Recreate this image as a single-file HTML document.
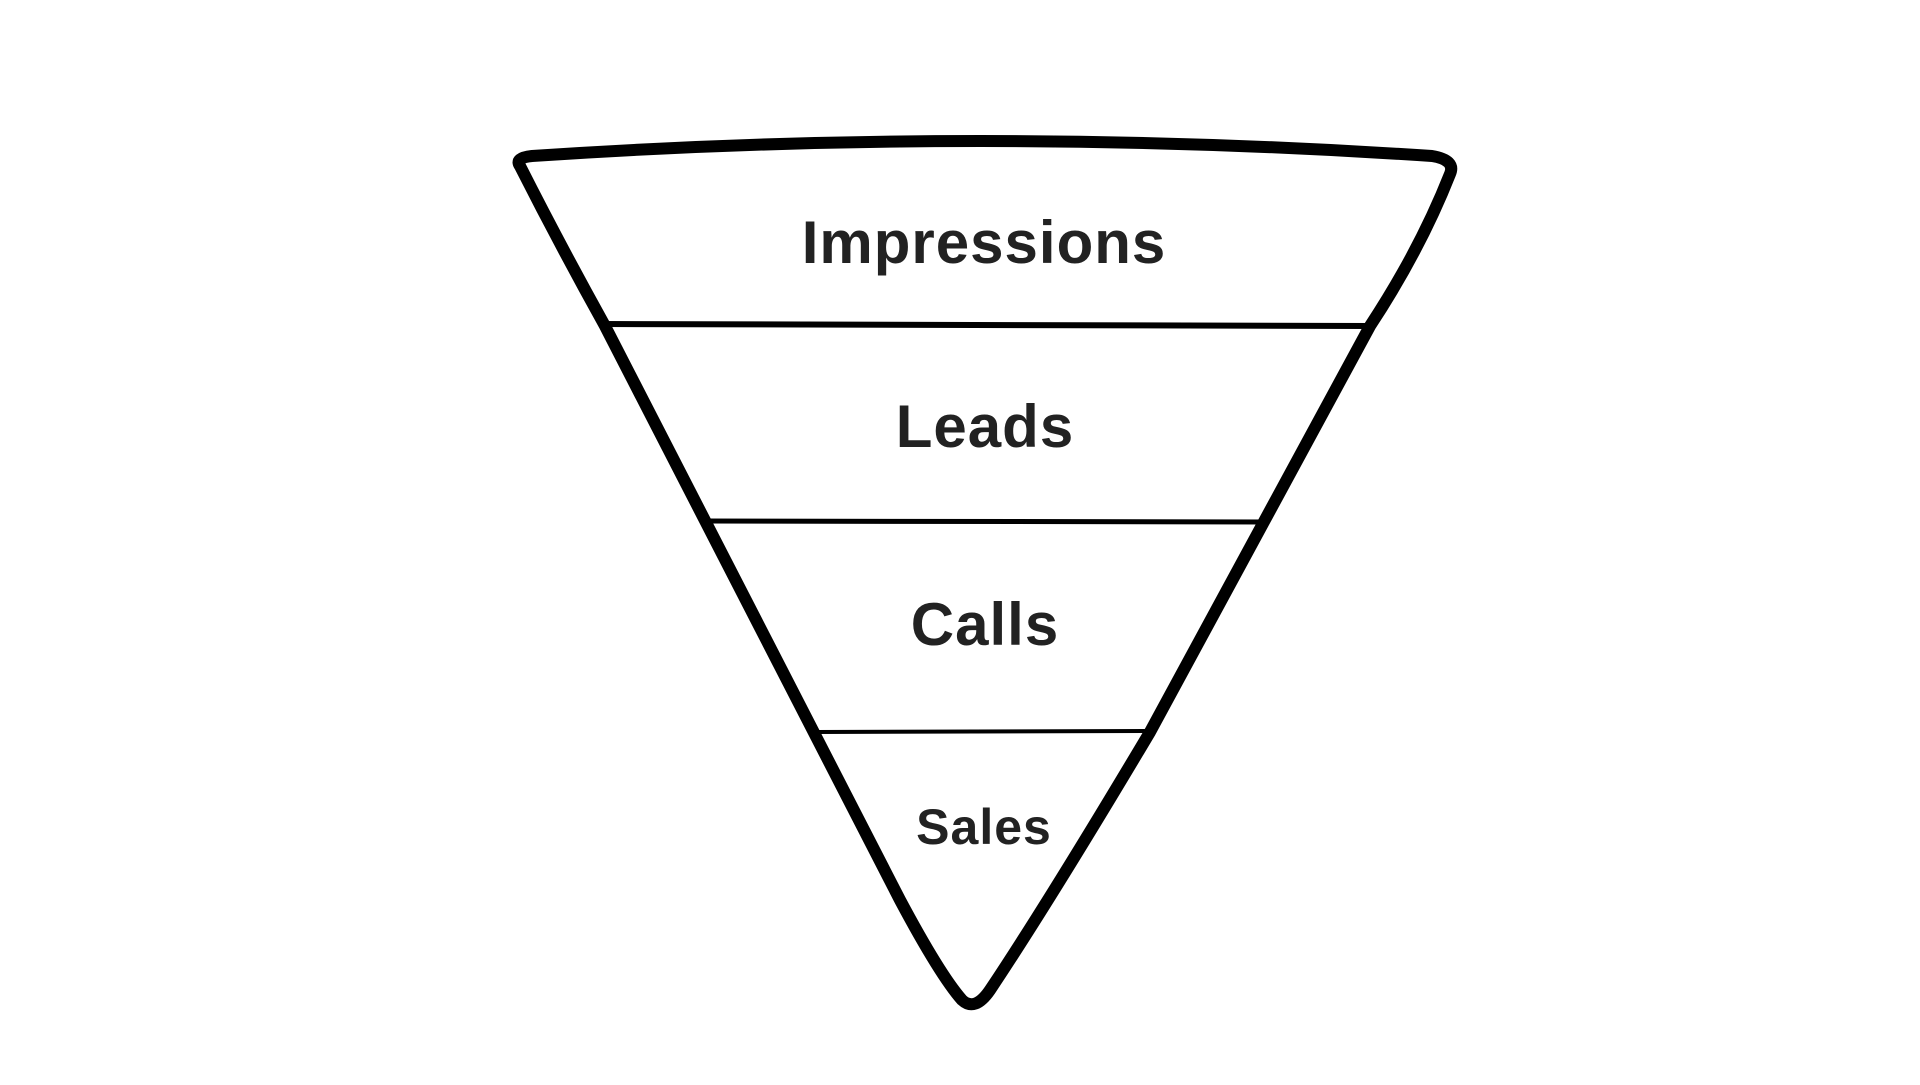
<!DOCTYPE html>
<html><head><meta charset="utf-8"><style>
html,body{margin:0;padding:0;background:#fff;width:1920px;height:1085px;overflow:hidden}
svg{display:block}
text{font-family:"Liberation Sans",sans-serif;font-weight:bold;fill:#222;text-anchor:middle;letter-spacing:1px}
</style></head><body>
<svg width="1920" height="1085" viewBox="0 0 1920 1085">
<path d="M520,166 Q514,158 532,156 Q980,126 1432,156 Q1456,160 1450,174 Q1420,250 1370,326 L1150,732 Q1050,900 990,990 Q975,1012 962,1000 Q940,975 900,900 L605,326 Q560,245 520,166 Z" fill="#fff" stroke="#000" stroke-width="12" stroke-linejoin="round"/>
<line x1="602" y1="324" x2="1370" y2="326" stroke="#000" stroke-width="6"/>
<line x1="705" y1="521" x2="1266" y2="522" stroke="#000" stroke-width="5"/>
<line x1="817" y1="732" x2="1148" y2="731" stroke="#000" stroke-width="4"/>
<text x="984" y="263" font-size="60">Impressions</text>
<text x="985" y="447" font-size="60">Leads</text>
<text x="985" y="645" font-size="60">Calls</text>
<text x="984" y="844" font-size="50">Sales</text>
</svg>
</body></html>
